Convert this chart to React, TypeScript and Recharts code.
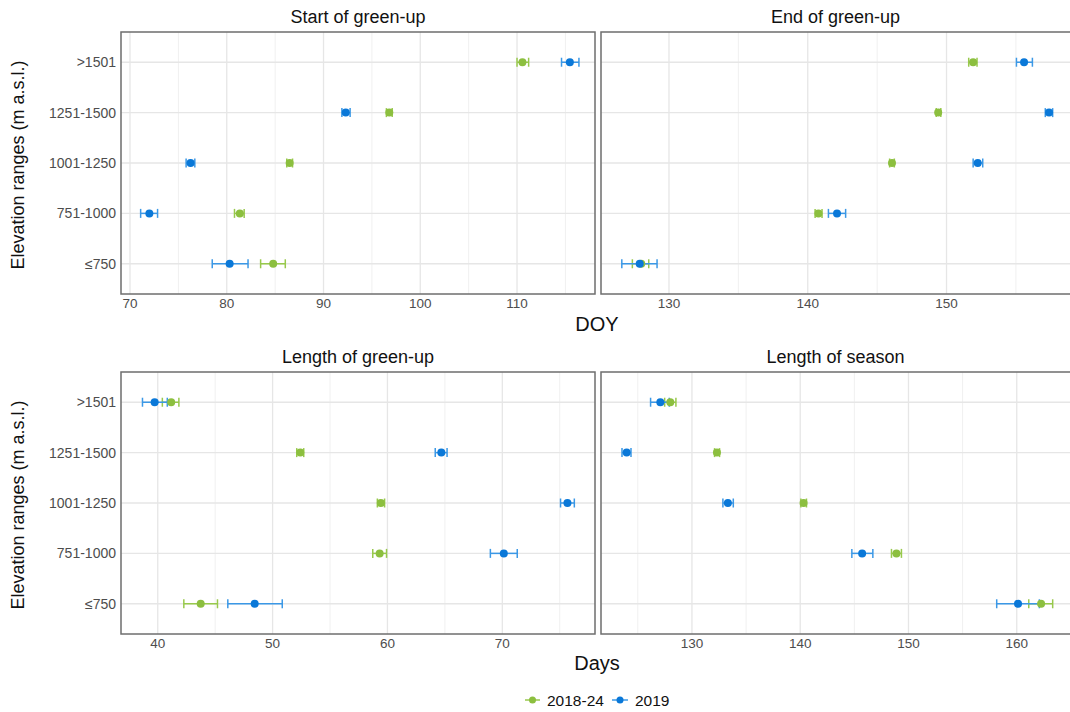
import React from 'react';
import { ScatterChart, Scatter, XAxis, YAxis, ErrorBar, ReferenceLine } from 'recharts';

const elevationRanges = ['≤750', '751-1000', '1001-1250', '1251-1500', '>1501'];
const seriesNames = ['2018-24', '2019'];
const seriesColors = ['#8cbf3f', '#0a78d8'];
const errorColors = ['#98c94c', '#3b98e6'];

// Start of green-up (DOY)
const startGreenMean = [84.8, 81.35, 86.5, 96.8, 110.56];
const startGreenLow = [83.5, 80.8, 86.2, 96.5, 110.0];
const startGreenHigh = [86.05, 81.8, 86.8, 97.1, 111.2];
const startBlueMean = [80.3, 72.0, 76.26, 92.3, 115.46];
const startBlueLow = [78.5, 71.1, 75.8, 91.9, 114.6];
const startBlueHigh = [82.2, 72.85, 76.7, 92.75, 116.4];

// End of green-up (DOY)
const endGreenMean = [128.0, 140.77, 146.07, 149.4, 151.92];
const endGreenLow = [127.36, 140.53, 145.9, 149.26, 151.6];
const endGreenHigh = [128.54, 141.03, 146.24, 149.59, 152.2];
const endBlueMean = [127.89, 142.11, 152.25, 157.39, 155.59];
const endBlueLow = [126.6, 141.49, 151.92, 157.12, 155.04];
const endBlueHigh = [129.14, 142.73, 152.61, 157.65, 156.19];

// Length of green-up (days)
const lenGreenMean = [43.74, 59.32, 59.42, 52.41, 41.17];
const lenGreenLow = [42.27, 58.72, 59.12, 52.1, 40.4];
const lenGreenHigh = [45.2, 59.92, 59.75, 52.71, 41.84];
const lenBlueMean = [48.44, 70.13, 75.67, 64.69, 39.73];
const lenBlueLow = [46.1, 68.96, 75.07, 64.16, 38.67];
const lenBlueHigh = [50.84, 71.3, 76.27, 65.19, 40.83];

// Length of season (days)
const seasonGreenMean = [162.25, 148.89, 140.31, 132.31, 128.0];
const seasonGreenLow = [161.11, 148.43, 140.06, 132.09, 127.48];
const seasonGreenHigh = [163.32, 149.35, 140.58, 132.55, 128.52];
const seasonBlueMean = [160.12, 145.72, 133.32, 123.97, 127.08];
const seasonBlueLow = [158.15, 144.77, 132.86, 123.54, 126.18];
const seasonBlueHigh = [162.09, 146.71, 133.82, 124.37, 127.91];

// Axis ticks
const startTicks = [70, 80, 90, 100, 110];
const startMinor = [75, 85, 95, 105, 115];
const endTicks = [130, 140, 150];
const endMinor = [135, 145, 155];
const lenTicks = [40, 50, 60, 70];
const lenMinor = [45, 55, 65, 75];
const seasonTicks = [130, 140, 150, 160];
const seasonMinor = [125, 135, 145, 155];

const FONT = '"Liberation Sans", Arial, sans-serif';

type Series = { mean: number[]; low: number[]; high: number[] };

const build = (s: Series) =>
  elevationRanges.map((c, i) => ({
    cat: c,
    y: i + 1,
    x: s.mean[i],
    err: [s.mean[i] - s.low[i], s.high[i] - s.mean[i]],
  }));

const EmptyShape = () => <g />;
const dotShape = (color: string) => (props: any) =>
  <circle cx={props.cx} cy={props.cy} r={4} fill={color} />;

type PanelProps = {
  left: number;
  top: number;
  width: number;
  height: number;
  yAxisWidth: number;
  showY: boolean;
  domain: [number, number];
  ticks: number[];
  minor: number[];
  series: Series[];
};

function Panel(p: PanelProps) {
  const datas = p.series.map(build);
  return (
    <div style={{ position: 'absolute', left: p.left, top: p.top }}>
      <ScatterChart width={p.width} height={p.height} margin={{ top: 0, right: 0, bottom: 0, left: 0 }}>
        <XAxis
          type="number"
          dataKey="x"
          domain={p.domain}
          ticks={p.ticks}
          interval={0}
          allowDataOverflow
          axisLine={false}
          tickLine={false}
          tickSize={0}
          tickMargin={4}
          height={26}
          tick={{ fill: '#4d4d4d', fontSize: 13.5, fontFamily: FONT }}
        />
        <YAxis
          type="number"
          dataKey="y"
          domain={[0.4, 5.6]}
          ticks={[1, 2, 3, 4, 5]}
          interval={0}
          allowDataOverflow
          hide={!p.showY}
          width={p.yAxisWidth}
          axisLine={false}
          tickLine={false}
          tickSize={0}
          tickMargin={5}
          tickFormatter={(v: number) => elevationRanges[v - 1]}
          tick={{ fill: '#4d4d4d', fontSize: 14, fontFamily: FONT }}
        />
        {p.minor.map((v) => (
          <ReferenceLine key={'mn' + v} x={v} stroke="#f0f0f0" strokeWidth={1} />
        ))}
        {p.ticks.map((v) => (
          <ReferenceLine key={'mj' + v} x={v} stroke="#e6e6e6" strokeWidth={1.3} />
        ))}
        {[1, 2, 3, 4, 5].map((v) => (
          <ReferenceLine key={'h' + v} y={v} stroke="#e6e6e6" strokeWidth={1.3} />
        ))}
        {datas.map((d, i) => (
          <Scatter key={'e' + i} name={seriesNames[i] + ' error'} data={d} shape={EmptyShape} isAnimationActive={false}>
            <ErrorBar dataKey="err" direction="x" width={4.5} stroke={errorColors[i]} strokeWidth={1.5} isAnimationActive={false} />
          </Scatter>
        ))}
        {datas.map((d, i) => (
          <Scatter key={'p' + i} name={seriesNames[i]} data={d} shape={dotShape(seriesColors[i])} isAnimationActive={false} />
        ))}
      </ScatterChart>
    </div>
  );
}

const panels = [
  { title: 'Start of green-up', px: 121, py: 32, pw: 474, showY: true, domain: [69.07, 118.06] as [number, number], ticks: startTicks, minor: startMinor,
    series: [{ mean: startGreenMean, low: startGreenLow, high: startGreenHigh }, { mean: startBlueMean, low: startBlueLow, high: startBlueHigh }] },
  { title: 'End of green-up', px: 601, py: 32, pw: 469, showY: false, domain: [125.1, 158.9] as [number, number], ticks: endTicks, minor: endMinor,
    series: [{ mean: endGreenMean, low: endGreenLow, high: endGreenHigh }, { mean: endBlueMean, low: endBlueLow, high: endBlueHigh }] },
  { title: 'Length of green-up', px: 121, py: 372, pw: 474, showY: true, domain: [36.8, 78.07] as [number, number], ticks: lenTicks, minor: lenMinor,
    series: [{ mean: lenGreenMean, low: lenGreenLow, high: lenGreenHigh }, { mean: lenBlueMean, low: lenBlueLow, high: lenBlueHigh }] },
  { title: 'Length of season', px: 601, py: 372, pw: 469, showY: false, domain: [121.6, 164.92] as [number, number], ticks: seasonTicks, minor: seasonMinor,
    series: [{ mean: seasonGreenMean, low: seasonGreenLow, high: seasonGreenHigh }, { mean: seasonBlueMean, low: seasonBlueLow, high: seasonBlueHigh }] },
];

const PH = 262;

export default function App() {
  return (
    <div style={{ position: 'absolute', left: 0, top: 0, width: 1070, height: 712, overflow: 'hidden', background: '#fff', fontFamily: FONT }}>
      {panels.map((pn, i) => (
        <Panel
          key={i}
          left={pn.showY ? 0 : pn.px}
          top={pn.py}
          width={pn.showY ? pn.px + pn.pw : pn.pw}
          height={PH + 26}
          yAxisWidth={pn.showY ? pn.px : 0}
          showY={pn.showY}
          domain={pn.domain}
          ticks={pn.ticks}
          minor={pn.minor}
          series={pn.series}
        />
      ))}
      <svg width={1070} height={712} style={{ position: 'absolute', left: 0, top: 0, pointerEvents: 'none' }}>
        {panels.map((pn, i) => (
          <g key={i}>
            <rect x={pn.px} y={pn.py} width={pn.showY ? pn.pw : pn.pw + 4} height={PH} fill="none" stroke="#6e6e6e" strokeWidth={1.5} />
            <text x={pn.px + pn.pw / 2} y={pn.py - 15} textAnchor="middle" dominantBaseline="central" fontSize={18} fill="#111" fontFamily={FONT}>
              {pn.title}
            </text>
          </g>
        ))}
        <text x={597} y={324} textAnchor="middle" dominantBaseline="central" fontSize={20} fill="#111" fontFamily={FONT}>DOY</text>
        <text x={597} y={663} textAnchor="middle" dominantBaseline="central" fontSize={20} fill="#111" fontFamily={FONT}>Days</text>
        <text transform="translate(18,165) rotate(-90)" textAnchor="middle" dominantBaseline="central" fontSize={18} fill="#111" fontFamily={FONT}>
          Elevation ranges (m a.s.l.)
        </text>
        <text transform="translate(18,505) rotate(-90)" textAnchor="middle" dominantBaseline="central" fontSize={18} fill="#111" fontFamily={FONT}>
          Elevation ranges (m a.s.l.)
        </text>
        <g>
          <line x1={525} y1={700} x2={540} y2={700} stroke={errorColors[0]} strokeWidth={1.5} />
          <circle cx={532.5} cy={700} r={3.5} fill={seriesColors[0]} />
          <text x={547} y={700} dominantBaseline="central" fontSize={15.5} fill="#111" fontFamily={FONT}>{seriesNames[0]}</text>
          <line x1={612} y1={700} x2={628} y2={700} stroke={errorColors[1]} strokeWidth={1.5} />
          <circle cx={620} cy={700} r={3.5} fill={seriesColors[1]} />
          <text x={635} y={700} dominantBaseline="central" fontSize={15.5} fill="#111" fontFamily={FONT}>{seriesNames[1]}</text>
        </g>
      </svg>
    </div>
  );
}
